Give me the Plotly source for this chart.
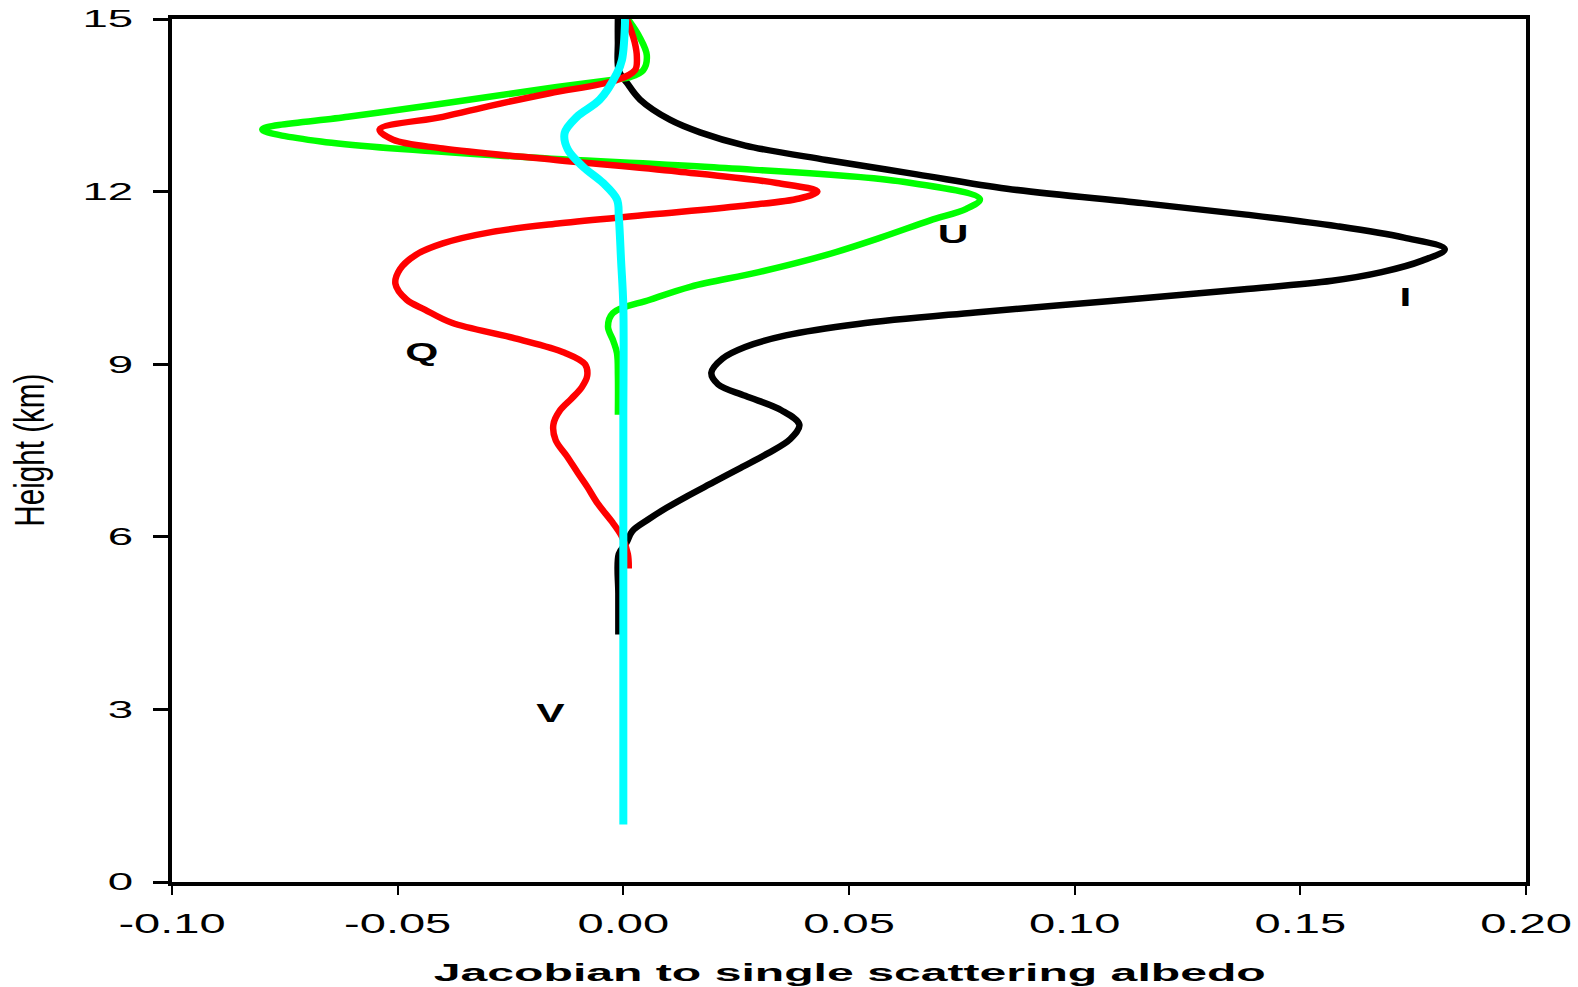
import plotly.graph_objects as go

# ---------------- data ----------------
# I (black)
I_height = [15.0, 14.6, 14.1, 13.89, 13.6, 13.25, 13.03, 12.8, 12.55, 12.3, 12.05, 11.8, 11.6,
            11.4, 11.2, 11.0, 10.8, 10.6, 10.45, 10.3, 10.1, 9.9, 9.7, 9.5, 9.3, 9.1, 8.85,
            8.65, 8.45, 8.2, 7.95, 7.7, 7.45, 7.2, 6.95, 6.7, 6.5, 6.3, 6.1, 5.9, 5.7, 5.0, 4.3]
I_value = [-0.0012, -0.0012, -0.0010, 0.0008, 0.0037, 0.0103, 0.017, 0.027, 0.045, 0.065, 0.085,
           0.115, 0.138, 0.158, 0.173, 0.182, 0.177, 0.168, 0.157, 0.137, 0.108, 0.078, 0.052,
           0.036, 0.027, 0.022, 0.0195, 0.021, 0.027, 0.035, 0.039, 0.037, 0.032, 0.026, 0.020,
           0.014, 0.0095, 0.0055, 0.002, 0.0007, -0.0010, -0.0011, -0.0011]

# Q (red)
Q_height = [15.0, 14.6, 14.34, 14.11, 13.94, 13.71, 13.5, 13.3, 13.08, 12.9, 12.75, 12.55, 12.35,
            12.15, 12.0, 11.88, 11.75, 11.6, 11.45, 11.3, 11.1, 10.9, 10.65, 10.4, 10.12, 9.95,
            9.72, 9.45, 9.2, 9.0, 8.8, 8.6, 8.4, 8.2, 7.95, 7.68, 7.4, 7.1, 6.87, 6.58,
            6.25, 6.0, 5.7, 5.45]
Q_value = [0.0008, 0.0025, 0.0030, 0.0026, -0.0014, -0.0163, -0.029, -0.040, -0.054, -0.051,
           -0.040, -0.015, 0.012, 0.034, 0.043, 0.039, 0.026, 0.006, -0.014, -0.029, -0.040,
           -0.046, -0.0495, -0.0505, -0.048, -0.044, -0.038, -0.0240, -0.0130, -0.0085, -0.0080,
           -0.0092, -0.0115, -0.0140, -0.0155, -0.0150, -0.0125, -0.0100, -0.0080, -0.0057,
           -0.0024, -0.0003, 0.0010, 0.0012]

# U (green)
U_height = [15.0, 14.7, 14.37, 14.11, 13.99, 13.95, 13.8, 13.5, 13.3, 13.08, 12.87, 12.6, 12.43,
            12.17, 11.87, 11.7, 11.5, 11.2, 10.9, 10.6, 10.35, 10.12, 9.89, 9.65, 9.4, 9.19,
            8.8, 8.12]
U_value = [0.0010, 0.0035, 0.0052, 0.0044, 0.0015, -0.0018, -0.0163, -0.0426, -0.061, -0.080,
           -0.067, -0.022, 0.018, 0.062, 0.079, 0.076, 0.068, 0.057, 0.045, 0.030, 0.015, 0.0059,
           -0.0023, -0.0034, -0.0022, -0.0014, -0.0012, -0.0012]

# V (cyan)
V_height = [15.0, 14.29, 14.06, 13.6, 13.3, 13.02, 12.73, 12.43, 12.15, 11.86, 11.56, 10.8,
            10.0, 8.0, 5.0, 3.0, 1.0]
V_value = [0.0004, -0.0003, -0.0014, -0.0052, -0.0103, -0.0130, -0.0123, -0.0089, -0.0045,
           -0.0014, -0.0010, -0.0005, 0.0, 0.0, 0.0, 0.0, 0.0]

# curve labels
label_text = ["I", "Q", "U", "V"]
label_x = [0.1734, -0.0447, 0.0730, -0.0161]
label_y = [10.17, 9.21, 11.26, 2.94]

x_ticks = [-0.10, -0.05, 0.00, 0.05, 0.10, 0.15, 0.20]
x_ticktext = ["-0.10", "-0.05", "0.00", "0.05", "0.10", "0.15", "0.20"]
y_ticks = [0, 3, 6, 9, 12, 15]

x_title = "Jacobian to single scattering albedo"
y_title = "Height (km)"

# ---------------- figure ----------------
FONT = "Liberation Sans, Arial, Helvetica, sans-serif"

fig = go.Figure()
series = [
    ("I", I_value, I_height, "#000000", 6.5),
    ("U", U_value, U_height, "#00FF00", 6.5),
    ("Q", Q_value, Q_height, "#FF0000", 6.5),
    ("V", V_value, V_height, "#00FFFF", 8),
]
for name, xv, yv, col, w in series:
    fig.add_trace(go.Scatter(
        x=xv, y=yv, mode="lines", name=name,
        line=dict(color=col, width=w, shape="spline", smoothing=1.0),
        showlegend=False, cliponaxis=True,
    ))

for t, xx, yy in zip(label_text, label_x, label_y):
    fig.add_annotation(x=xx, y=yy, xref="x", yref="y", text=t, showarrow=False,
                       font=dict(family=FONT, size=25, color="black", weight="bold"),
                       xanchor="center", yanchor="middle")

# axis titles as annotations for exact placement
fig.add_annotation(x=0.5, y=-0.105, xref="paper", yref="paper", text=x_title,
                   showarrow=False, xanchor="center", yanchor="middle",
                   font=dict(family=FONT, size=23, color="black", weight="bold"))
fig.add_annotation(x=-0.1055, y=0.5, xref="paper", yref="paper", text=y_title,
                   showarrow=False, xanchor="center", yanchor="middle", textangle=-90,
                   font=dict(family=FONT, size=42, color="black"))

fig.update_layout(
    width=1578, height=987,
    margin=dict(l=172, r=52, t=19, b=105, pad=0, autoexpand=False),
    plot_bgcolor="white", paper_bgcolor="white",
    font=dict(family=FONT, color="black"),
)
fig.update_xaxes(
    range=[-0.10, 0.20], tickvals=x_ticks, ticktext=x_ticktext,
    showline=True, linecolor="black", linewidth=4, mirror=True,
    ticks="outside", ticklen=9, tickwidth=2, tickcolor="black",
    showgrid=False, zeroline=False, automargin=False,
    tickfont=dict(family=FONT, size=28, color="black"),
    ticklabelstandoff=4,
)
fig.update_yaxes(
    range=[0, 15], tickvals=y_ticks,
    showline=True, linecolor="black", linewidth=4, mirror=True,
    ticks="outside", ticklen=15, tickwidth=3, tickcolor="black",
    showgrid=False, zeroline=False, automargin=False,
    tickfont=dict(family=FONT, size=24, color="black"),
    ticklabelstandoff=15,
)

post = """
document.body.style.margin = '0';
document.body.style.padding = '0';
document.body.style.overflow = 'hidden';
var gd = document.getElementById('{plot_id}');
function stretchEl(t, target){
  t.setAttribute('textLength', target.toFixed(1));
  t.setAttribute('lengthAdjust', 'spacingAndGlyphs');
}
function fit(){
  gd.querySelectorAll('.xtick text').forEach(function(t){
    t.removeAttribute('textLength');
    stretchEl(t, t.getComputedTextLength()*1.68);
  });
  gd.querySelectorAll('.ytick text').forEach(function(t){
    t.removeAttribute('textLength');
    stretchEl(t, t.getComputedTextLength()*1.9);
  });
  var targets = {'Jacobian to single scattering albedo': 832, 'Height (km)': 153};
  gd.querySelectorAll('.annotation-text').forEach(function(t){
    var s = t.textContent;
    t.removeAttribute('textLength');
    if (targets[s] !== undefined) { stretchEl(t, targets[s]); }
    else { stretchEl(t, t.getComputedTextLength()*1.7); }
  });
}
fit();
gd.on('plotly_afterplot', fit);
"""

fig.write_html("out.html", post_script=post, config={"displayModeBar": False})
